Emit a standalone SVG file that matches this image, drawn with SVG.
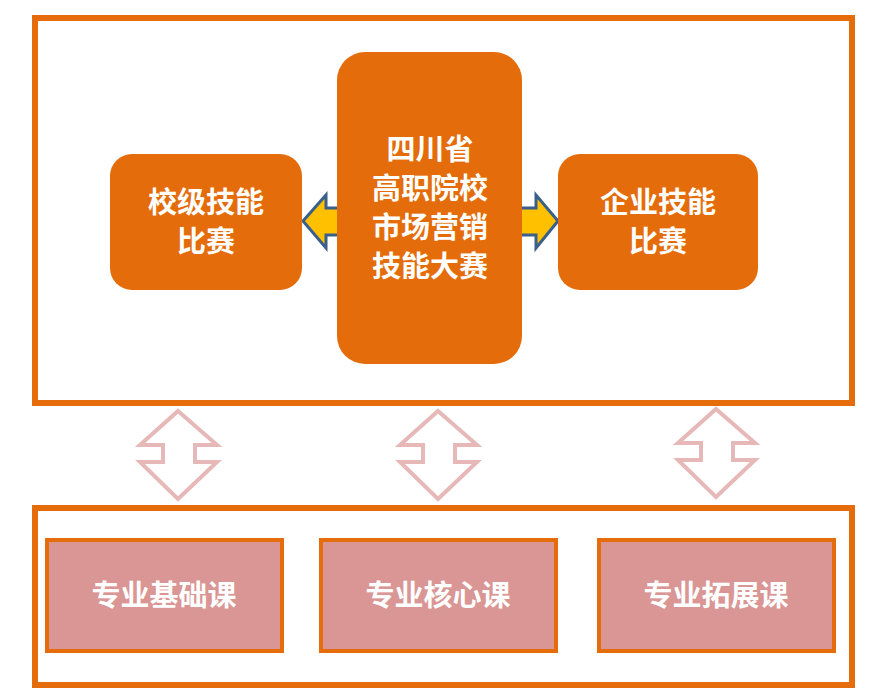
<svg xmlns="http://www.w3.org/2000/svg" width="882" height="699" viewBox="0 0 882 699">
<style>
.frame{fill:#fff;stroke:#E46C0A;stroke-width:6}
.node{fill:#E46C0A}
.course{fill:#D99694;stroke:#E46C0A;stroke-width:4}
.t{font-family:"Noto Sans CJK SC",sans-serif;font-weight:bold;fill:#fff;font-size:29px;text-anchor:middle}
.ud{fill:#fff;stroke:#E6B9B8;stroke-width:4}
.lr{fill:#FFC000;stroke:#3A5F8A;stroke-width:3}
</style>
<rect class="frame" x="35" y="18" width="817" height="385"/>
<rect class="frame" x="35" y="508" width="817" height="177"/>
<g id="connectors">
<path class="lr" d="M303,221 L326,195 L326,208 L345,208 L345,235 L326,235 L326,248 Z"/>
<path class="lr" d="M558,221 L536,195 L536,208 L515,208 L515,235 L536,235 L536,248 Z"/>
<path class="ud" d="M178,411 L217,445 L195,445 L195,462 L217,462 L178,499 L140,462 L163,462 L163,445 L140,445 Z"/>
<path class="ud" d="M438,411 L477,445 L455,445 L455,462 L477,462 L438,499 L400,462 L423,462 L423,445 L400,445 Z"/>
<path class="ud" d="M716,409 L755,443 L733,443 L733,460 L755,460 L716,497 L678,460 L701,460 L701,443 L678,443 Z"/>
</g>
<g id="n-school"><rect class="node" x="110" y="154" width="192" height="136" rx="22"/><text class="t" x="206" y="213">校级技能</text><text class="t" x="206" y="252">比赛</text></g>
<g id="n-main"><rect class="node" x="337" y="52" width="185" height="312" rx="28"/><text class="t" x="430" y="160">四川省</text><text class="t" x="430" y="199">高职院校</text><text class="t" x="430" y="238">市场营销</text><text class="t" x="430" y="277">技能大赛</text></g>
<g id="n-ent"><rect class="node" x="558" y="154" width="200" height="136" rx="22"/><text class="t" x="658" y="213">企业技能</text><text class="t" x="658" y="252">比赛</text></g>
<g id="c1"><rect class="course" x="47" y="540" width="235" height="111"/><text class="t" x="164" y="606">专业基础课</text></g>
<g id="c2"><rect class="course" x="321" y="540" width="235" height="111"/><text class="t" x="438" y="606">专业核心课</text></g>
<g id="c3"><rect class="course" x="599" y="540" width="235" height="111"/><text class="t" x="716" y="606">专业拓展课</text></g>
</svg>
